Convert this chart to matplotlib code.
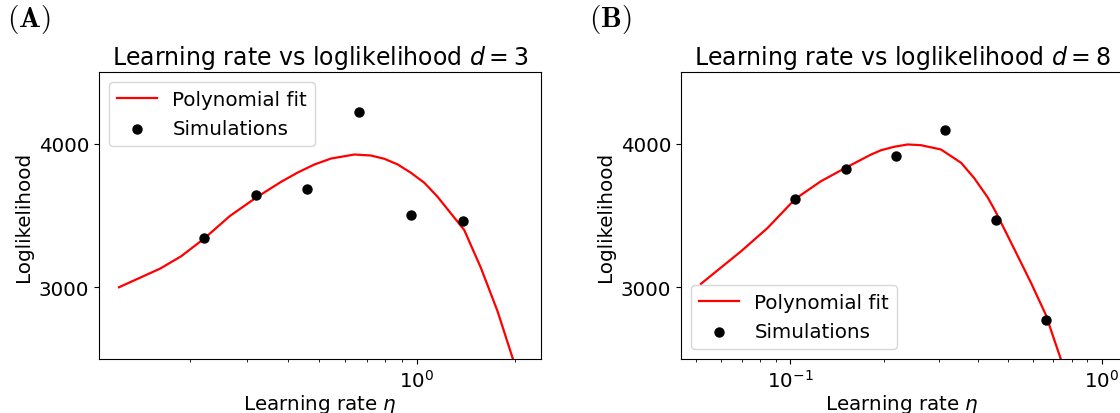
import matplotlib
matplotlib.use("Agg")
import matplotlib.pyplot as plt

plt.rcParams["font.size"] = 14.3
plt.rcParams["mathtext.fontset"] = "dejavusans"

# ---- panel A (d = 3) ----
eta_sim_a = [0.221, 0.319, 0.460, 0.663, 0.958, 1.382]
ll_sim_a = [3342, 3644, 3688, 4220, 3505, 3460]
# fitted curve
eta_fit_a = [0.121, 0.162, 0.188, 0.221, 0.265, 0.319, 0.382, 0.430, 0.483,
             0.544, 0.642, 0.722, 0.794, 0.872, 0.958, 1.054, 1.158, 1.273,
             1.399, 1.574, 1.771, 1.970, 2.05]
ll_fit_a = [3000, 3130, 3216, 3338, 3495, 3623, 3735, 3800, 3855,
            3897, 3925, 3918, 3895, 3856, 3798, 3728, 3630, 3514,
            3398, 3135, 2833, 2508, 2380]

# ---- panel B (d = 8) ----
eta_sim_b = [0.104, 0.151, 0.219, 0.315, 0.457, 0.661]
ll_sim_b = [3612, 3821, 3914, 4098, 3467, 2775]
eta_fit_b = [0.0518, 0.0697, 0.0848, 0.104, 0.1257, 0.151, 0.182, 0.196,
             0.216, 0.2385, 0.263, 0.305, 0.354, 0.390, 0.431, 0.457,
             0.525, 0.593, 0.661, 0.740, 0.77]
ll_fit_b = [3024, 3251, 3414, 3616, 3739, 3833, 3925, 3955,
            3979, 3995, 3990, 3960, 3867, 3760, 3625, 3525,
            3263, 3031, 2810, 2496, 2380]

panels = [
    ("A", 3, eta_fit_a, ll_fit_a, eta_sim_a, ll_sim_a, (0.105, 2.41), "upper left"),
    ("B", 8, eta_fit_b, ll_fit_b, eta_sim_b, ll_sim_b, (0.0447, 1.17), "lower left"),
]

W, H = 1120, 414
fig = plt.figure(figsize=(W / 100, H / 100), dpi=100)
lefts = [99, 681]
for (tag, d, ef, lf, es, ls, xlim, loc), x0 in zip(panels, lefts):
    ax = fig.add_axes([x0 / W, (H - 360) / H, 442 / W, 287 / H])
    ax.plot(ef, lf, color="red", lw=1.6, label="Polynomial fit")
    ax.scatter(es, ls, color="black", s=42, zorder=3, label="Simulations")
    ax.set_xscale("log")
    ax.set_xlim(*xlim)
    ax.set_ylim(2500, 4500)
    ax.set_yticks([3000, 4000])
    ax.set_xlabel(r"Learning rate $\eta$", labelpad=1)
    ax.set_ylabel("Loglikelihood")
    ax.set_title(rf"Learning rate vs loglikelihood $d = {d}$", fontsize=17)
    ax.legend(loc=loc)
    fig.text((x0 - 92) / W, 1 - 20 / H, rf"$\mathbf{{({tag})}}$",
             fontsize=21, ha="left", va="center", math_fontfamily="cm")

fig.savefig("out.png", dpi=100)
